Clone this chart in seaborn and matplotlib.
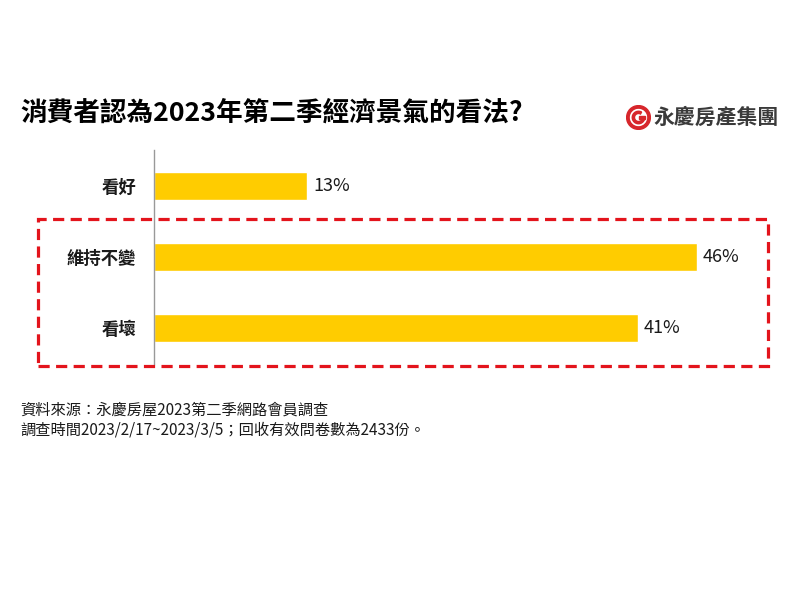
import matplotlib.pyplot as plt
import matplotlib.patches as mpatches
import seaborn as sns
import pandas as pd

# data
categories = ['看好', '維持不變', '看壞']
shares = [13, 46, 41]
value_labels = ['13%', '46%', '41%']

title = '消費者認為2023年第二季經濟景氣的看法?'
brand = '永慶房產集團'
notes = ['資料來源：永慶房屋2023第二季網路會員調查',
         '調查時間2023/2/17~2023/3/5；回收有效問卷數為2433份。']

sns.set_theme(style='white')
plt.rcParams['font.family'] = ['Noto Sans CJK TC', 'DejaVu Sans']

df = pd.DataFrame({'category': categories, 'share': shares})

fig = plt.figure(figsize=(8, 6), dpi=100)
ax = fig.add_axes([154 / 800, 1 - 364 / 600, 590 / 800, 214 / 600])

sns.barplot(data=df, x='share', y='category', orient='h', color='#FFCC00',
            saturation=1, width=0.39, ax=ax)

ax.set_xlim(0, 50)
ax.set_ylim(2.5, -0.5)
ax.set_xlabel('')
ax.set_ylabel('')
ax.set_xticks([])
ax.tick_params(axis='y', length=0, pad=13)
for lbl in ax.get_yticklabels():
    lbl.set_fontsize(12.5)
    lbl.set_fontweight('bold')
    lbl.set_color('#1a1a1a')

for side in ['top', 'right', 'bottom']:
    ax.spines[side].set_visible(False)
ax.spines['left'].set_color('#999999')
ax.spines['left'].set_linewidth(1)

for i, (v, txt) in enumerate(zip(shares, value_labels)):
    ax.annotate(txt, xy=(v, i), xytext=(4, 0), textcoords='offset points',
                va='center', ha='left', fontsize=13, color='#1a1a1a')

# title
fig.text(20 / 800, 1 - 113 / 600, title, fontsize=19.2, fontweight='bold',
         va='center', ha='left', color='#000000')

# brand logo
fig.text(653 / 800, 1 - 117 / 600, brand, fontsize=15, fontweight='bold',
         va='center', ha='left', color='#3a3a3a')
lax = fig.add_axes([626 / 800, 1 - 130 / 600, 25 / 800, 25 / 600])
lax.set_xlim(-1, 1)
lax.set_ylim(-1, 1)
lax.set_aspect('equal')
lax.axis('off')
lax.add_patch(mpatches.Wedge((0, 0), 0.95, 0, 360, width=0.2, color='#D7262B'))
lax.add_patch(mpatches.Wedge((0, 0), 0.5, 60, 360, width=0.18, color='#D7262B'))
lax.add_patch(mpatches.Rectangle((0.0, -0.09), 0.5, 0.18, color='#D7262B'))

# dashed highlight box
box = mpatches.Rectangle((38 / 800, 1 - 366 / 600), 730 / 800, 147 / 600,
                         transform=fig.transFigure, fill=False,
                         edgecolor='#E3141C', linewidth=2.3,
                         linestyle=(0, (3.5, 2)))
fig.patches.append(box)

# footnotes
fig.text(20 / 800, 1 - 410 / 600, notes[0], fontsize=11, va='center',
         ha='left', color='#1a1a1a')
fig.text(20 / 800, 1 - 430 / 600, notes[1], fontsize=11, va='center',
         ha='left', color='#1a1a1a')

plt.savefig('out.png', dpi=100)
